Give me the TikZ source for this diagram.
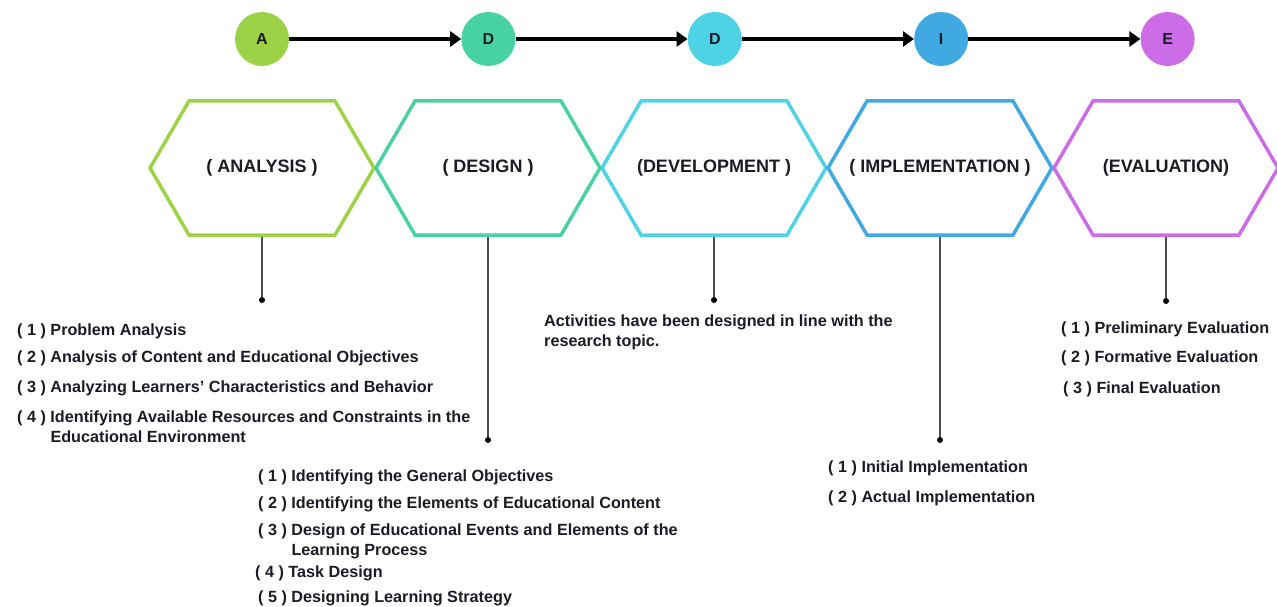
\documentclass[tikz,border=0pt]{standalone}
\usepackage{fontspec}
\setmainfont{Liberation Sans}
\usetikzlibrary{arrows.meta,positioning}
\definecolor{Ana}{HTML}{9DD246}
\definecolor{Des}{HTML}{48D1A2}
\definecolor{Dev}{HTML}{4ED3E4}
\definecolor{Imp}{HTML}{41A9E1}
\definecolor{Eva}{HTML}{CC6CE7}
\definecolor{Ink}{HTML}{1B1B24}
\newcommand{\hexw}{112}
\newcommand{\hexs}{73}
\newcommand{\hexh}{67}

\tikzset{
  stage/.style={circle,fill=#1,minimum size=54pt,inner sep=0pt,text=Ink,
    font=\bfseries\fontsize{16}{16}\selectfont},
  flow/.style={-{Triangle[length=11pt,width=15pt]},line width=4pt},
  hexa/.style={draw=#1,line width=3.5pt,line join=miter},
  phase/.style={font=\bfseries\fontsize{18}{18}\selectfont,text=Ink},
  stem/.style={draw=black!70,line width=1.5pt},
  dot/.style={circle,fill=black,inner sep=0pt,minimum size=6pt},
  item/.style={anchor=west,inner sep=0pt,align=left,text=Ink,
    font=\bfseries\fontsize{16.2}{20}\selectfont}
}

\begin{document}
\begin{tikzpicture}[x=1pt,y=-1pt]
  \useasboundingbox (0,0) rectangle (1277,607);

  % top row of letters
  \node[stage=Ana] (cA) at (262,39) {A};
  \node[stage=Des,right=172pt of cA] (cD) {D};
  \node[stage=Dev,right=172pt of cD] (cDv) {D};
  \node[stage=Imp,right=172pt of cDv] (cI) {I};
  \node[stage=Eva,right=172pt of cI] (cE) {E};
  \draw[flow] (cA) -- (cD);
  \draw[flow] (cD) -- (cDv);
  \draw[flow] (cDv) -- (cI);
  \draw[flow] (cI) -- (cE);

  % hexagons with the phase names
  \foreach \cx/\col/\nm/\lbl in {262/Ana/ana/( ANALYSIS ),488/Des/des/( DESIGN ),
      714/Dev/dev/(DEVELOPMENT ),940/Imp/imp/( IMPLEMENTATION ),1166/Eva/eva/(EVALUATION)}{
    \draw[hexa=\col] (\cx-\hexw,168) -- (\cx-\hexs,168-\hexh) -- (\cx+\hexs,168-\hexh)
      -- (\cx+\hexw,168) -- (\cx+\hexs,168+\hexh) -- (\cx-\hexs,168+\hexh) -- cycle;
    \node[phase] (\nm) at (\cx,168) {\lbl};
    \coordinate (\nm-b) at (\cx,168+\hexh+2);
  }

  % stems down to the lists
  \node[dot] (anaDot) at (262,300) {};
  \node[dot] (desDot) at (488,440) {};
  \node[dot] (devDot) at (714,300) {};
  \node[dot] (impDot) at (940,440) {};
  \node[dot] (evaDot) at (1166,301) {};
  \draw[stem] (ana-b) -- (anaDot);
  \draw[stem] (des-b) -- (desDot);
  \draw[stem] (dev-b) -- (devDot);
  \draw[stem] (imp-b) -- (impDot);
  \draw[stem] (eva-b) -- (evaDot);

  % analysis
  \node[item] (ana1) at (17,331) {( 1 ) Problem Analysis};
  \node[item] (ana2) at (17,358) {( 2 ) Analysis of Content and Educational Objectives};
  \node[item] (ana3) at (17,388) {( 3 ) Analyzing Learners' Characteristics and Behavior};
  \node[item] (ana4) at (17,428) {( 4 ) Identifying Available Resources and Constraints in the\\
    \phantom{( 4 ) }Educational Environment};

  % design
  \node[item] (des1) at (258,477) {( 1 ) Identifying the General Objectives};
  \node[item] (des2) at (258,504) {( 2 ) Identifying the Elements of Educational Content};
  \node[item] (des3) at (258,541) {( 3 ) Design of Educational Events and Elements of the\\
    \phantom{( 3 ) }Learning Process};
  \node[item] (des4) at (255,573) {( 4 ) Task Design};
  \node[item] (des5) at (258,598) {( 5 ) Designing Learning Strategy};

  % development
  \node[item] (dev1) at (544,332) {Activities have been designed in line with the\\research topic.};

  % implementation
  \node[item] (imp1) at (828,468) {( 1 ) Initial Implementation};
  \node[item] (imp2) at (828,498) {( 2 ) Actual Implementation};

  % evaluation
  \node[item] (eva1) at (1061,329) {( 1 ) Preliminary Evaluation};
  \node[item] (eva2) at (1061,358) {( 2 ) Formative Evaluation};
  \node[item] (eva3) at (1063,389) {( 3 ) Final Evaluation};
\end{tikzpicture}
\end{document}
